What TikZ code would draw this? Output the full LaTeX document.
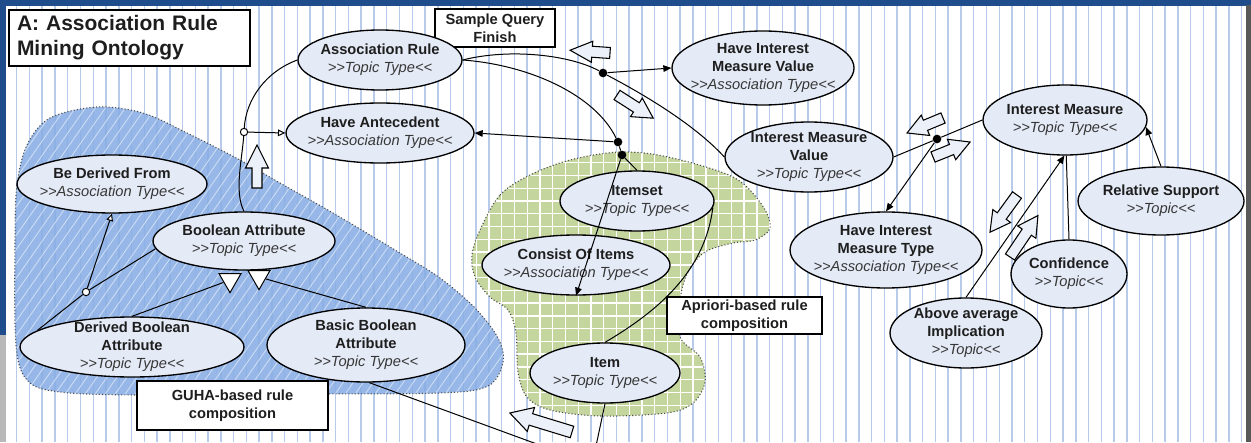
\documentclass[tikz,border=0pt]{standalone}
\usepackage{fontspec}
\setmainfont{Liberation Sans}
\usetikzlibrary{arrows.meta,shapes.geometric}
\definecolor{vline}{RGB}{184,203,234}
\definecolor{ellfill}{RGB}{228,234,246}
\definecolor{bluereg}{RGB}{136,174,228}
\definecolor{greenreg}{RGB}{196,213,158}
\definecolor{frameblue}{RGB}{31,76,138}
\definecolor{txtc}{RGB}{30,30,30}
\definecolor{itc}{RGB}{55,55,55}
\definecolor{arrfill}{RGB}{236,240,248}
\newcommand\ital[1]{{\color{itc}\itshape #1}}
\newcommand\blockarr[6]{%
  \begin{scope}[shift={(#1)},rotate=#2]
    \draw[line width=0.8pt, fill=arrfill, line join=miter] (0,-#4) -- ({#3-#6},-#4) -- ({#3-#6},-#5) -- (#3,0) -- ({#3-#6},#5) -- ({#3-#6},#4) -- (0,#4) -- cycle;
  \end{scope}}
\begin{document}
\begin{tikzpicture}[x=0.75pt,y=-0.75pt,
  ell/.style 2 args={ellipse, draw=black, line width=1pt, fill=ellfill, inner sep=0pt, minimum width=#1*0.75pt, minimum height=#2*0.75pt},
  etext/.style={align=center, inner sep=0pt, text=txtc, font=\fontsize{11}{13.5}\selectfont},
  lbox/.style 2 args={draw=black, line width=1pt, fill=white, inner sep=0pt, minimum width=#1*0.75pt, minimum height=#2*0.75pt, align=center, text=txtc, font=\fontsize{11}{13.5}\selectfont\bfseries},
  conn/.style={line width=0.75pt, draw=black},
  fa/.style={conn, -{Triangle[length=6pt,width=5pt]}},
  oa/.style={conn, -{Triangle[open,length=5.5pt,width=5pt,fill=white]}},
  bdot/.style={circle, fill=black, inner sep=0pt, minimum size=6.5pt},
  ocirc/.style={circle, draw=black, line width=0.75pt, fill=white, inner sep=0pt, minimum size=5.5pt},
  gtri/.style={regular polygon, regular polygon sides=3, shape border rotate=180, draw=black, line width=0.75pt, fill=white, inner sep=0pt, minimum size=19pt},
  regborder/.style={draw=black!70, line width=0.8pt, dash pattern=on 0.8pt off 1.6pt},
  vl/.style={draw=vline, line width=1.1pt},
]
\useasboundingbox (0,0) rectangle (1251,442);
\fill[white] (0,0) rectangle (1251,442);
\foreach \i in {0,...,96} { \draw[vl] ({16.7+12.76*\i},5) -- ({16.7+12.76*\i},442); }
% frame
\fill[frameblue] (0,0) rectangle (1251,6);
\fill[frameblue] (0,0) rectangle (6,335);
\fill[gray!55] (0,335) rectangle (6,442);
\fill[gray!70!black] (1246,5) rectangle (1251,442);

% blue region
\fill[bluereg, fill opacity=0.88] plot[smooth cycle, tension=0.55] coordinates {(15,240) (17,185) (27,145) (50,118) (97,107) (143,113) (187,133) (240,160) (280,183) (333,213) (400,253) (440,278) (475,308) (498,338) (503,362) (488,386) (440,393) (300,394) (137,395) (60,392) (28,381) (16,345)};
\begin{scope}
  \clip plot[smooth cycle, tension=0.55] coordinates {(15,240) (17,185) (27,145) (50,118) (97,107) (143,113) (187,133) (240,160) (280,183) (333,213) (400,253) (440,278) (475,308) (498,338) (503,362) (488,386) (440,393) (300,394) (137,395) (60,392) (28,381) (16,345)};
  \foreach \k in {-25,...,51} { \draw[white, line width=0.7pt, opacity=0.5] ({\k*10},430) -- ++(240,-343); }
\end{scope}
\draw[regborder] plot[smooth cycle, tension=0.55] coordinates {(15,240) (17,185) (27,145) (50,118) (97,107) (143,113) (187,133) (240,160) (280,183) (333,213) (400,253) (440,278) (475,308) (498,338) (503,362) (488,386) (440,393) (300,394) (137,395) (60,392) (28,381) (16,345)};

% green region
\fill[greenreg] plot[smooth cycle, tension=0.55] coordinates {(480,230) (500,195) (530,175) (570,160) (620,152) (668,157) (733,177) (762,205) (770,228) (755,240) (733,243) (705,252) (688,272) (680,300) (680,337) (700,357) (705,382) (693,403) (667,413) (600,416) (550,410) (527,397) (518,372) (516,333) (508,310) (490,297) (475,277) (472,255)};
\begin{scope}
  \clip plot[smooth cycle, tension=0.55] coordinates {(480,230) (500,195) (530,175) (570,160) (620,152) (668,157) (733,177) (762,205) (770,228) (755,240) (733,243) (705,252) (688,272) (680,300) (680,337) (700,357) (705,382) (693,403) (667,413) (600,416) (550,410) (527,397) (518,372) (516,333) (508,310) (490,297) (475,277) (472,255)};
  \foreach \i in {0,...,26} { \draw[white, line width=1pt] ({463.4+12.76*\i},140) -- ++(0,290); }
  \foreach \j in {0,...,22} { \draw[white, line width=1pt] (460,{150+12.76*\j}) -- ++(320,0); }
\end{scope}
\draw[regborder] plot[smooth cycle, tension=0.55] coordinates {(480,230) (500,195) (530,175) (570,160) (620,152) (668,157) (733,177) (762,205) (770,228) (755,240) (733,243) (705,252) (688,272) (680,300) (680,337) (700,357) (705,382) (693,403) (667,413) (600,416) (550,410) (527,397) (518,372) (516,333) (508,310) (490,297) (475,277) (472,255)};

% boxes
\node[draw=black, line width=1pt, fill=white, inner sep=0pt, minimum width=241*0.75pt, minimum height=56*0.75pt, text width=225*0.75pt, align=left, text=txtc, font=\fontsize{15.75}{18.75}\selectfont\bfseries] (title) at (129.5,38) {A: Association Rule\\Mining Ontology};
\node[lbox={120}{38}] (sq) at (495,28) {Sample Query\\Finish};
\node[lbox={191}{49}] (guha) at (232.5,405.5) {GUHA-based rule\\composition};
\node[lbox={155}{37}] (apr) at (744.5,315.5) {Apriori-based rule\\composition};

% ellipses
\node[ell={164}{60}] (ar) at (380,60) {};
\node[etext] at (ar.center) {\textbf{Association Rule}\\\ital{>{}>Topic Type<{}<}};
\node[ell={188}{60}] (ha) at (380,133) {};
\node[etext] at (ha.center) {\textbf{Have Antecedent}\\\ital{>{}>Association Type<{}<}};
\node[ell={182}{74}] (himv) at (763,68) {};
\node[etext] at (himv.center) {\textbf{Have Interest}\\\textbf{Measure Value}\\\ital{>{}>Association Type<{}<}};
\node[ell={168}{70}] (imv) at (809,157) {};
\node[etext] at (imv.center) {\textbf{Interest Measure}\\\textbf{Value}\\\ital{>{}>Topic Type<{}<}};
\node[ell={164}{70}] (im) at (1065,120) {};
\node[etext] at (im.center) {\textbf{Interest Measure}\\\ital{>{}>Topic Type<{}<}};
\node[ell={166}{68}] (rs) at (1161,201) {};
\node[etext] at (rs.center) {\textbf{Relative Support}\\\ital{>{}>Topic<{}<}};
\node[ell={192}{76}] (himt) at (886,250) {};
\node[etext] at (himt.center) {\textbf{Have Interest}\\\textbf{Measure Type}\\\ital{>{}>Association Type<{}<}};
\node[ell={116}{68}] (conf) at (1069,274) {};
\node[etext] at (conf.center) {\textbf{Confidence}\\\ital{>{}>Topic<{}<}};
\node[ell={152}{70}] (aai) at (966,333) {};
\node[etext] at (aai.center) {\textbf{Above average}\\\textbf{Implication}\\\ital{>{}>Topic<{}<}};
\node[ell={154}{60}] (iset) at (637,201) {};
\node[etext] at (iset.center) {\textbf{Itemset}\\\ital{>{}>Topic Type<{}<}};
\node[ell={188}{60}] (coi) at (576,265) {};
\node[etext] at (coi.center) {\textbf{Consist Of Items}\\\ital{>{}>Association Type<{}<}};
\node[ell={150}{60}] (item) at (605,373) {};
\node[etext] at (item.center) {\textbf{Item}\\\ital{>{}>Topic Type<{}<}};
\node[ell={190}{58}] (bdf) at (112,184) {};
\node[etext] at (bdf.center) {\textbf{Be Derived From}\\\ital{>{}>Association Type<{}<}};
\node[ell={182}{58}] (ba) at (244,241) {};
\node[etext] at (ba.center) {\textbf{Boolean Attribute}\\\ital{>{}>Topic Type<{}<}};
\node[ell={224}{60}] (dba) at (132,347) {};
\node[etext] at (dba.center) {\textbf{Derived Boolean}\\\textbf{Attribute}\\\ital{>{}>Topic Type<{}<}};
\node[ell={198}{74}] (bba) at (366,345) {};
\node[etext] at (bba.center) {\textbf{Basic Boolean}\\\textbf{Attribute}\\\ital{>{}>Topic Type<{}<}};

% block arrows
\blockarr{257,188}{90}{43}{5}{11.5}{23}
\blockarr{610,53}{176}{40}{5.5}{10.5}{22}
\blockarr{617,95}{-32.6}{43}{5.5}{11}{20}
\blockarr{572,432}{163}{65}{6}{12.5}{22}
\blockarr{943,118}{-157.4}{39}{5.5}{11}{20}
\blockarr{933,157}{22}{40}{5.5}{11}{20}
\blockarr{1017,195}{-126}{46}{5.5}{11}{20}
\blockarr{1010,257}{56}{50}{5.5}{11}{20}

% junction nodes
\node[ocirc] (c1) at (244,132) {};
\node[ocirc] (c2) at (86,292) {};
\node[bdot] (d1) at (603,73) {};
\node[bdot] (d2) at (618,142) {};
\node[bdot] (d3) at (622,155) {};
\node[bdot] (dC) at (937,139) {};
\node[gtri] (t1) at (230,280) {};
\node[gtri] (t2) at (259,277) {};
\coordinate (b1) at (596,446);
\coordinate (b2) at (545,447);

% connectors
\draw[conn] (ar.west) .. controls (265,72) and (246,100) .. (c1);
\draw[conn] (c1) .. controls (242,160) and (234,192) .. (ba.north);
\draw[oa] (c1) -- (ha.west);
\draw[conn] (ar.east) .. controls (510,48) and (570,55) .. (d1);
\draw[conn] (d1) .. controls (645,95) and (695,125) .. (imv.west);
\draw[fa] (d1) -- (himv.west);
\draw[conn] (ar.east) .. controls (530,65) and (595,95) .. (d2);
\draw[fa] (d2) -- (ha.east);
\draw[conn] (d2) -- (d3);
\draw[conn] (d3) -- (iset.north);
\draw[fa] (d3) -- (coi.south);
\draw[conn] (iset.-5) .. controls (705,270) and (660,310) .. (item.north);
\draw[conn] (item.south) -- (b1);
\draw[conn] (bba.-85) -- (b2);
\draw[conn] (imv.east) -- (dC);
\draw[conn] (dC) -- (im.west);
\draw[fa] (dC) -- (himt.north);
\draw[fa] (aai.north) -- (im.-91);
\draw[conn] (conf.north) -- (im.-88);
\draw[fa] (rs.north) -- (im.-5);
\draw[conn] (dba.170) -- (c2);
\draw[conn] (c2) -- (ba.185);
\draw[oa] (c2) -- (bdf.south);
\draw[conn] (dba.north) -- (t1);
\draw[conn] (bba.north) -- (t2);
\end{tikzpicture}
\end{document}
